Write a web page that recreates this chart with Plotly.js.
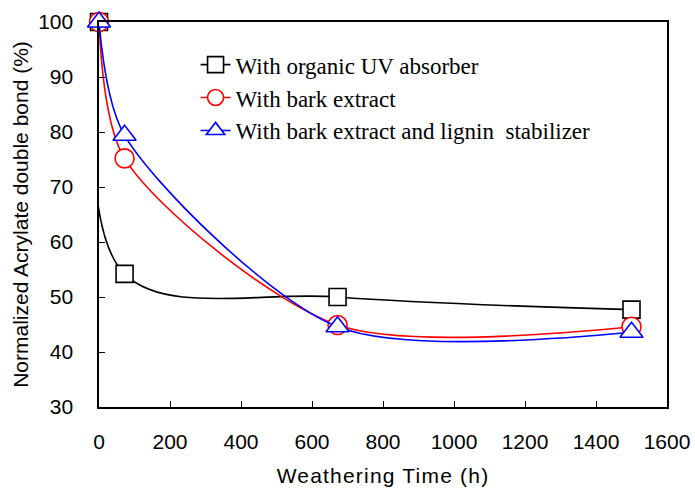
<!DOCTYPE html>
<html>
<head>
<meta charset="utf-8">
<script src="https://cdn.plot.ly/plotly-3.0.1.min.js"></script>
<style>html,body{margin:0;padding:0;background:#fff}#chart{width:695px;height:496px}
.xtitle{letter-spacing:1.2px}</style>
</head>
<body>
<div id="chart"></div>
<script>
const timeH = [0, 72, 672, 1500];
const organicUV = [100, 54.2, 50.0, 47.7];
const barkExtract = [100, 75.2, 44.9, 44.6];
const barkLignin = [100, 79.4, 44.6, 43.6];
const seriesNames = ["With organic UV absorber", "With bark extract", "With bark extract and lignin  stabilizer"];

const traces = [
  {x: timeH, y: organicUV, name: seriesNames[0], mode: "lines+markers", cliponaxis: false,
    line: {shape: "spline", smoothing: 1.0, width: 1.6, color: "#000000"},
    marker: {symbol: "square", size: 17, color: "#ffffff", line: {color: "#000000", width: 1.6}}},
  {x: timeH, y: barkExtract, name: seriesNames[1], mode: "lines+markers", cliponaxis: false,
    line: {shape: "spline", smoothing: 0.8, width: 1.6, color: "#ff0000"},
    marker: {symbol: "circle", size: 19, color: "#ffffff", line: {color: "#ff0000", width: 1.6}}},
  {x: timeH, y: barkLignin, name: seriesNames[2], mode: "lines+markers", cliponaxis: false,
    line: {shape: "spline", smoothing: 0.8, width: 1.6, color: "#0000ff"},
    marker: {symbol: "triangle-up", size: 20, color: "#ffffff", line: {color: "#0000ff", width: 1.6}}}
];

const tickFont = {family: "Liberation Sans, Arial, sans-serif", size: 21, color: "#000"};
const layout = {
  width: 695, height: 496,
  margin: {l: 99, r: 28, t: 22, b: 89},
  paper_bgcolor: "#fff", plot_bgcolor: "#fff",
  showlegend: true,
  legend: {x: 0.17, y: 0.945, xanchor: "left", yanchor: "top", bgcolor: "rgba(0,0,0,0)",
    font: {family: "Liberation Serif, Times New Roman, serif", size: 23, color: "#000"},
    tracegroupgap: 0, itemwidth: 30},
  xaxis: {range: [0, 1600], dtick: 200, tick0: 0, showgrid: false, zeroline: false,
    showline: true, linecolor: "#000", linewidth: 1.6, mirror: true,
    ticks: "inside", ticklen: 6, tickwidth: 1, tickcolor: "#000",
    tickfont: tickFont, ticklabelstandoff: 15,
    title: {text: "Weathering Time (h)", font: {family: "Liberation Sans, Arial, sans-serif", size: 21, color: "#000"}, standoff: 16}},
  yaxis: {range: [30, 100], dtick: 10, tick0: 30, showgrid: false, zeroline: false,
    showline: true, linecolor: "#000", linewidth: 1.6, mirror: true,
    ticks: "inside", ticklen: 6, tickwidth: 1, tickcolor: "#000",
    tickfont: tickFont, ticklabelstandoff: 20,
    title: {text: "Normalized Acrylate double bond (%)", font: {family: "Liberation Sans, Arial, sans-serif", size: 21, color: "#000"}, standoff: 4}}
};
Plotly.newPlot("chart", traces, layout, {displayModeBar: false, staticPlot: true});
</script>
</body>
</html>
